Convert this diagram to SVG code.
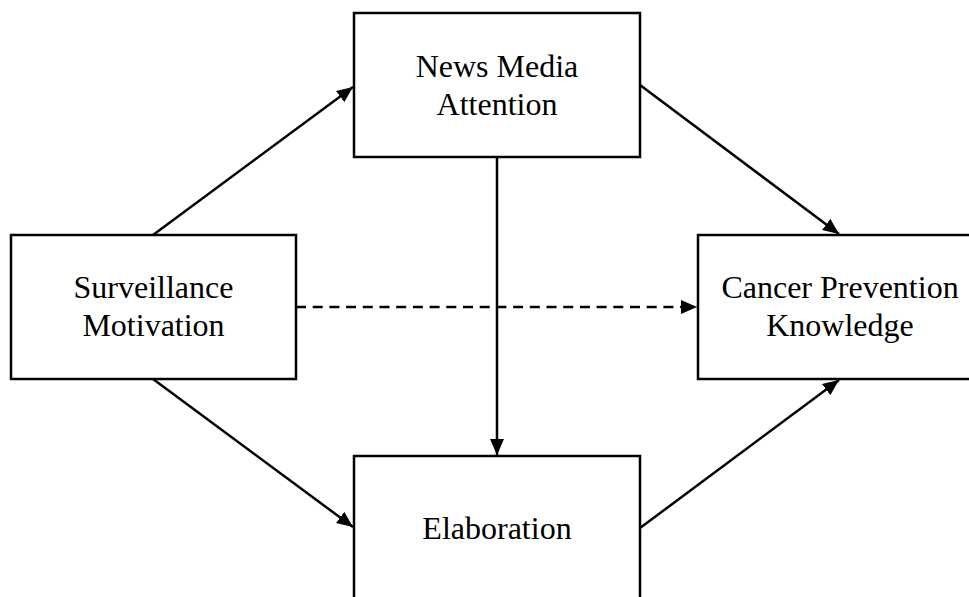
<svg xmlns="http://www.w3.org/2000/svg" width="969" height="597" viewBox="0 0 969 597">
<defs>
<style>
.box{fill:#fff;stroke:#000;stroke-width:2.5}
.lbl{font-family:"Liberation Serif","Times New Roman",serif;font-size:32px;fill:#000;text-anchor:middle}
.c{fill:none;stroke:#000;stroke-width:2.5}
.d{stroke-dasharray:10 6.7}
</style>
<marker id="ah" markerUnits="userSpaceOnUse" markerWidth="18" markerHeight="14" refX="16" refY="7" orient="auto">
<path d="M0,0 L16,7 L0,14 Z" fill="#000"/>
</marker>
</defs>
<rect width="969" height="597" fill="#fff"/>
<g id="connectors">
<line class="c" x1="153" y1="235" x2="353" y2="87" marker-end="url(#ah)"/>
<line class="c" x1="153" y1="379" x2="353" y2="527" marker-end="url(#ah)"/>
<line class="c" x1="640" y1="85" x2="839" y2="234" marker-end="url(#ah)"/>
<line class="c" x1="640" y1="528" x2="839" y2="380" marker-end="url(#ah)"/>
<line class="c" x1="497" y1="157" x2="497" y2="455" marker-end="url(#ah)"/>
<line class="c d" x1="296" y1="307" x2="697" y2="307" marker-end="url(#ah)"/>
</g>
<g id="news">
<rect class="box" x="354" y="13" width="286" height="144"/>
<text class="lbl" x="497" y="77">News Media</text>
<text class="lbl" x="497" y="115">Attention</text>
</g>
<g id="surveillance">
<rect class="box" x="11" y="235" width="285" height="144"/>
<text class="lbl" x="153.5" y="298">Surveillance</text>
<text class="lbl" x="153.5" y="336">Motivation</text>
</g>
<g id="knowledge">
<rect class="box" x="698" y="235" width="285" height="144"/>
<text class="lbl" x="840" y="298">Cancer Prevention</text>
<text class="lbl" x="840" y="336">Knowledge</text>
</g>
<g id="elaboration">
<rect class="box" x="354" y="456" width="286" height="144"/>
<text class="lbl" x="497" y="539">Elaboration</text>
</g>
</svg>
